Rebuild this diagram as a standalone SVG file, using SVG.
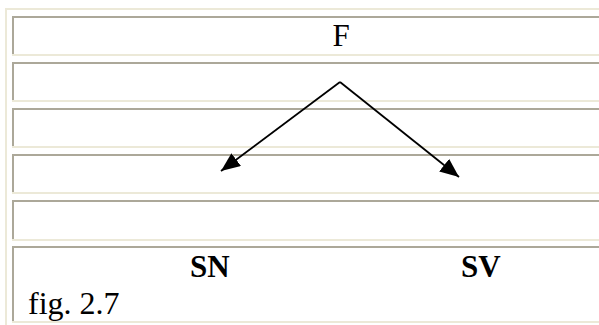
<svg xmlns="http://www.w3.org/2000/svg" width="599" height="325" viewBox="0 0 599 325">
  <style>
    .hi { fill: #ECE9D8; }
    .lo { fill: #ACA899; }
    .txt { font-family: "Liberation Serif", "Times New Roman", serif; font-size: 31px; fill: #000; }
    .bold { font-weight: bold; }
    .edge { stroke: #000; stroke-width: 1.8; fill: none; marker-end: url(#head); }
  </style>
  <defs>
    <marker id="head" markerUnits="userSpaceOnUse" markerWidth="20" markerHeight="16" refX="19" refY="8" orient="auto">
      <path d="M0,0 L19,8 L0,16 Z" fill="#000"/>
    </marker>
  </defs>

  <rect width="599" height="325" fill="#fff"/>

  <!-- outer table border (outset) -->
  <g id="table">
    <rect class="hi" x="5" y="8" width="600" height="2"/>
    <rect class="hi" x="5" y="8" width="2" height="320"/>
  </g>

  <!-- table rows (inset cells) -->
  <g id="row1">
    <rect class="lo" x="12" y="16" width="600" height="2"/>
    <rect class="lo" x="12" y="16" width="2" height="38"/>
    <rect class="hi" x="12" y="54" width="600" height="2"/>
    <text class="txt" x="341" y="46" text-anchor="middle">F</text>
  </g>
  <g id="row2">
    <rect class="lo" x="12" y="62" width="600" height="2"/>
    <rect class="lo" x="12" y="62" width="2" height="38"/>
    <rect class="hi" x="12" y="100" width="600" height="2"/>
  </g>
  <g id="row3">
    <rect class="lo" x="12" y="108" width="600" height="2"/>
    <rect class="lo" x="12" y="108" width="2" height="38"/>
    <rect class="hi" x="12" y="146" width="600" height="2"/>
  </g>
  <g id="row4">
    <rect class="lo" x="12" y="154" width="600" height="2"/>
    <rect class="lo" x="12" y="154" width="2" height="38"/>
    <rect class="hi" x="12" y="192" width="600" height="2"/>
  </g>
  <g id="row5">
    <rect class="lo" x="12" y="200" width="600" height="2"/>
    <rect class="lo" x="12" y="200" width="2" height="39"/>
    <rect class="hi" x="12" y="239" width="600" height="2"/>
  </g>
  <g id="row6">
    <rect class="lo" x="12" y="246" width="600" height="2"/>
    <rect class="lo" x="12" y="246" width="2" height="75"/>
    <rect class="hi" x="12" y="321" width="600" height="2"/>
  </g>

  <g id="SN">
    <text class="txt bold" x="190" y="277">SN</text>
  </g>
  <g id="SV">
    <text class="txt bold" x="461" y="277">SV</text>
  </g>
  <g id="caption">
    <text class="txt" x="28" y="314" style="font-size:32px">fig. 2.7</text>
  </g>

  <!-- branches from F -->
  <g id="connectors">
    <path class="edge" d="M340,82 L221,171"/>
    <path class="edge" d="M340,82 L459,177"/>
  </g>
</svg>
